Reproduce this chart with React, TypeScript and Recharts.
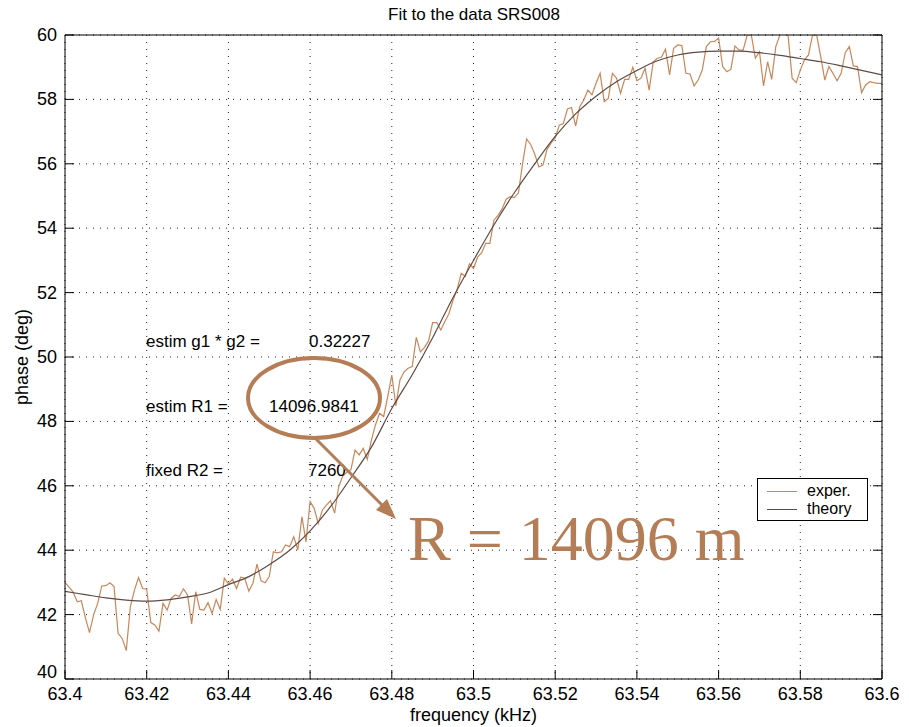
import { LineChart, Line, XAxis, YAxis, CartesianGrid, Legend } from "recharts";

// measured phase, one sample every 0.001 kHz starting at 63.4 kHz
const freqStart = 63.4;
const freqStep = 0.001;
const experPhase = [
  43.0, 42.85, 42.7, 42.4, 42.43, 41.9, 41.44, 41.99, 42.35, 42.89,
  42.9, 42.99, 42.87, 41.42, 41.26, 40.88, 42.25, 42.76, 43.15, 42.81,
  42.79, 41.75, 41.68, 41.49, 42.35, 42.14, 42.51, 42.61, 42.56, 42.8,
  42.61, 41.71, 42.71, 42.16, 42.14, 42.37, 42.04, 42.47, 42.16, 43.13,
  42.95, 43.1, 42.81, 43.16, 43.13, 42.73, 42.97, 43.57, 43.05, 42.99,
  43.18, 43.95, 43.92, 43.95, 44.16, 44.11, 44.42, 44.01, 45.04, 44.26,
  45.51, 45.3, 44.83, 45.25, 45.4, 45.54, 45.15, 45.97, 46.3, 46.42,
  46.5, 47.11, 46.96, 47.16, 46.82, 47.42, 47.89, 48.25, 48.15, 48.77,
  49.44, 48.48, 49.29, 49.54, 49.65, 49.7, 50.61, 50.16, 50.3, 50.5,
  51.07, 51.07, 50.84, 51.1, 51.35, 51.77, 52.1, 52.6, 52.5, 52.9,
  52.75, 53.1, 53.24, 53.53, 53.53, 54.25, 54.4, 54.6, 54.9, 54.98,
  54.95, 55.1, 56.0, 56.77, 56.6, 56.3, 55.9, 55.96, 56.45, 56.65,
  56.8, 57.2, 57.25, 57.7, 57.75, 57.17, 57.77, 57.98, 58.29, 58.14,
  58.5, 58.81, 57.93, 58.03, 58.81, 58.66, 58.19, 58.62, 58.62, 59.0,
  58.58, 58.66, 58.97, 58.29, 59.17, 59.28, 59.31, 59.56, 58.76, 59.59,
  59.69, 59.67, 58.81, 58.79, 58.42, 58.6, 58.91, 59.64, 59.79, 59.8,
  59.9, 59.02, 58.86, 58.93, 59.66, 59.53, 59.53, 60.0, 60.0, 59.28,
  59.48, 58.42, 59.17, 58.62, 59.64, 60.0, 60.1, 60.0, 58.66, 58.52,
  58.91, 59.22, 59.38, 60.0, 60.0, 59.33, 58.6, 59.02, 58.81, 58.58,
  58.81, 59.45, 59.64, 59.04, 59.02, 58.21, 58.45, 58.55, 58.52, 58.5,
  58.5,
];

// fitted model
const theoryFreq = [
  63.4, 63.405, 63.41, 63.415, 63.42, 63.425, 63.43, 63.435, 63.44, 63.445,
  63.45, 63.455, 63.46, 63.465, 63.47, 63.475, 63.48, 63.485, 63.49, 63.495,
  63.5, 63.505, 63.51, 63.515, 63.52, 63.525, 63.53, 63.535, 63.54, 63.545,
  63.55, 63.555, 63.56, 63.565, 63.57, 63.575, 63.58, 63.585, 63.59, 63.595,
  63.6,
];
const theoryPhase = [
  42.72, 42.62, 42.52, 42.45, 42.42, 42.46, 42.55, 42.67, 42.93, 43.18,
  43.55, 44.0, 44.6, 45.35, 46.25, 47.2, 48.4, 49.45, 50.6, 51.85,
  53.0, 54.1, 55.1, 56.0, 56.85, 57.55, 58.1, 58.55, 58.9, 59.2,
  59.38, 59.47, 59.5, 59.5, 59.45, 59.37, 59.27, 59.17, 59.04, 58.9,
  58.76,
];

const xTicks = [63.4, 63.42, 63.44, 63.46, 63.48, 63.5, 63.52, 63.54, 63.56, 63.58, 63.6];
const yTicks = [40, 42, 44, 46, 48, 50, 52, 54, 56, 58, 60];

const FONT = "'Liberation Sans', Arial, Helvetica, sans-serif";
const EXPER = "#c8875a";
const THEORY = "#5f4a45";
const NOTE = "#b47d55";

const experData = experPhase.map((p, i) => ({ f: +(freqStart + i * freqStep).toFixed(3), phase: p }));
const theoryData = theoryFreq.map((f, i) => ({ f, phase: theoryPhase[i] }));

const fmtX = (v: number) => String(Number(v.toFixed(2)));

const BottomTick = ({ x, y, payload }: any) => (
  <g>
    <line x1={x} y1={y} x2={x} y2={y - 9} stroke="#000" />
    <text x={x} y={y + 21} textAnchor="middle" fontSize={18} fontFamily={FONT} fill="#000">
      {fmtX(payload.value)}
    </text>
  </g>
);
const TopTick = ({ x, y }: any) => <line x1={x} y1={y} x2={x} y2={y + 9} stroke="#000" />;
const LeftTick = ({ x, y, payload }: any) => (
  <g>
    <line x1={x} y1={y} x2={x + 9} y2={y} stroke="#000" />
    {/* bottom label sits a little higher so it clears the x tick labels */}
    <text x={x - 8} y={payload.value === 40 ? y - 1 : y + 6} textAnchor="end" fontSize={18} fontFamily={FONT} fill="#000">
      {payload.value}
    </text>
  </g>
);
const RightTick = ({ x, y }: any) => <line x1={x} y1={y} x2={x - 9} y2={y} stroke="#000" />;

const LegendBox = ({ payload }: any) => (
  <div
    style={{
      width: 111, height: 43, border: "1px solid #000", background: "#fff", boxSizing: "border-box",
      fontFamily: FONT, fontSize: 16, padding: "3px 0 0 9px", lineHeight: "18px",
    }}
  >
    {(payload || []).map((p: any) => (
      <div key={p.value} style={{ display: "flex", alignItems: "center" }}>
        <span style={{ display: "inline-block", width: 30, height: 0, borderTop: `1.5px solid ${p.color}`, marginRight: 10 }} />
        {p.value}
      </div>
    ))}
  </div>
);

export default function App() {
  return (
    <div style={{ position: "relative", width: 909, height: 727, background: "#fff" }}>
      <style>{"body{margin:0;overflow:hidden;background:#fff}"}</style>
      <LineChart width={909} height={727} margin={{ top: 34, right: 26, bottom: 0, left: 0 }}>
        <CartesianGrid stroke="#222" strokeDasharray="1 6" />
        <XAxis
          dataKey="f" type="number" domain={[63.4, 63.6]} ticks={xTicks} allowDataOverflow
          height={48} tickSize={0} tickMargin={0} tick={<BottomTick />} axisLine={{ stroke: "#000" }}
          label={{ value: "frequency (kHz)", position: "insideBottom", offset: 6, fontSize: 18, fontFamily: FONT, fill: "#000" }}
        />
        <XAxis
          xAxisId="top" orientation="top" type="number" domain={[63.4, 63.6]} ticks={xTicks} allowDataOverflow
          height={1} tickSize={0} tickMargin={0} tick={<TopTick />} axisLine={{ stroke: "#000" }}
        />
        <YAxis
          type="number" domain={[40, 60]} ticks={yTicks} allowDataOverflow width={65}
          tickSize={0} tickMargin={0} tick={<LeftTick />} axisLine={{ stroke: "#000" }}
          label={{ value: "phase (deg)", angle: -90, position: "insideLeft", offset: 22, fontSize: 18, fontFamily: FONT, fill: "#000", style: { textAnchor: "middle" } }}
        />
        <YAxis
          yAxisId="right" orientation="right" type="number" domain={[40, 60]} ticks={yTicks} allowDataOverflow
          width={1} tickSize={0} tickMargin={0} tick={<RightTick />} axisLine={{ stroke: "#000" }}
        />
        <Legend layout="horizontal" verticalAlign="middle" align="center" wrapperStyle={{ left: 757, top: 478, width: 111 }} content={<LegendBox />} />
        <Line data={experData} dataKey="phase" name="exper." type="linear" stroke={EXPER} strokeWidth={1.2} dot={false} isAnimationActive={false} />
        <Line data={theoryData} dataKey="phase" name="theory" type="monotone" stroke={THEORY} strokeWidth={1.2} dot={false} isAnimationActive={false} />
      </LineChart>
      <svg width={909} height={727} style={{ position: "absolute", left: 0, top: 0, pointerEvents: "none" }}>
        <text x={474} y={20} textAnchor="middle" fontSize={17} fontFamily={FONT} fill="#000">Fit to the data SRS008</text>
        <g fontSize={17} fontFamily={FONT} fill="#000">
          <text x={146} y={347}>estim g1 * g2 =</text>
          <text x={309} y={347}>0.32227</text>
          <text x={146} y={412}>estim R1 =</text>
          <text x={269} y={412}>14096.9841</text>
          <text x={146} y={476}>fixed R2 =</text>
          <text x={308} y={476}>7260</text>
        </g>
        <ellipse cx={314} cy={398} rx={66} ry={40} fill="none" stroke={NOTE} strokeWidth={4} />
        <line x1={316} y1={439} x2={385} y2={508} stroke={NOTE} strokeWidth={3} />
        <polygon points="396,519 376,510 387,499" fill={NOTE} />
        <text x={408} y={560} fontSize={64} fontFamily="'Liberation Serif', 'Times New Roman', serif" fill={NOTE}>R = 14096 m</text>
      </svg>
    </div>
  );
}
